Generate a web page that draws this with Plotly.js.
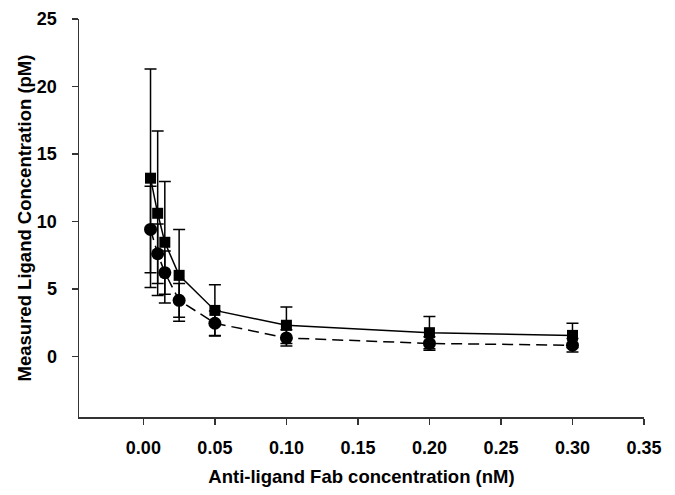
<!DOCTYPE html>
<html>
<head>
<meta charset="utf-8">
<script src="https://cdn.plot.ly/plotly-3.0.1.min.js"></script>
<style>html,body{margin:0;padding:0;background:#fff;}#chart{width:675px;height:495px;}</style>
</head>
<body>
<div id="chart"></div>
<script>
const fabConc = [0.005, 0.01, 0.015, 0.025, 0.05, 0.1, 0.2, 0.3];
const squareVals = [13.2, 10.6, 8.45, 6.0, 3.4, 2.3, 1.75, 1.55];
const squareErr = [8.1, 6.1, 4.5, 3.4, 1.9, 1.35, 1.2, 0.9];
const circleVals = [9.4, 7.6, 6.2, 4.15, 2.45, 1.36, 0.95, 0.82];
const circleErr = [3.2, 2.2, 1.6, 1.25, 0.9, 0.6, 0.5, 0.5];
const yTicks = [0, 5, 10, 15, 20, 25];
const xTicks = [0, 0.05, 0.10, 0.15, 0.20, 0.25, 0.30, 0.35];

const font = "Liberation Sans, Arial, sans-serif";
const traces = [
  {
    x: fabConc, y: circleVals, type: 'scatter', mode: 'lines+markers',
    line: {color: '#000', width: 1.5, dash: '11px,6px'},
    marker: {symbol: 'circle', size: 13, color: '#000'},
    error_y: {type: 'data', array: circleErr, visible: true, color: '#000', thickness: 1.5, width: 6},
    showlegend: false
  },
  {
    x: fabConc, y: squareVals, type: 'scatter', mode: 'lines+markers',
    line: {color: '#000', width: 1.5},
    marker: {symbol: 'square', size: 11, color: '#000'},
    error_y: {type: 'data', array: squareErr, visible: true, color: '#000', thickness: 1.5, width: 6},
    showlegend: false
  }
];
const layout = {
  width: 675, height: 495,
  margin: {l: 79, r: 31, t: 19, b: 78, pad: 0},
  paper_bgcolor: '#fff', plot_bgcolor: '#fff',
  font: {family: font, color: '#000'},
  xaxis: {
    range: [-0.045, 0.35], tickvals: xTicks,
    ticktext: xTicks.map(v => '<b>' + v.toFixed(2) + '</b>'),
    showline: true, linecolor: '#333', linewidth: 1.5,
    ticks: 'outside', ticklen: 6, tickwidth: 1.5, tickcolor: '#333',
    showgrid: false, zeroline: false,
    tickfont: {family: font, size: 18, color: '#000'},
    ticklabelstandoff: 8,
    title: {text: '<b>Anti-ligand Fab concentration (nM)</b>', font: {family: font, size: 18.5, color: '#000'}, standoff: 13},
    automargin: false
  },
  yaxis: {
    range: [-4.5, 25], tickvals: yTicks,
    ticktext: yTicks.map(v => '<b>' + v + '</b>'),
    showline: true, linecolor: '#333', linewidth: 1.5,
    ticks: 'outside', ticklen: 6, tickwidth: 1.5, tickcolor: '#333',
    showgrid: false, zeroline: false,
    tickfont: {family: font, size: 18, color: '#000'},
    ticklabelstandoff: 11,
    title: {text: '<b>Measured Ligand Concentration (pM)</b>', font: {family: font, size: 18.5, color: '#000'}, standoff: 0},
    automargin: false
  }
};
Plotly.newPlot('chart', traces, layout, {displayModeBar: false, staticPlot: true});
</script>
</body>
</html>
